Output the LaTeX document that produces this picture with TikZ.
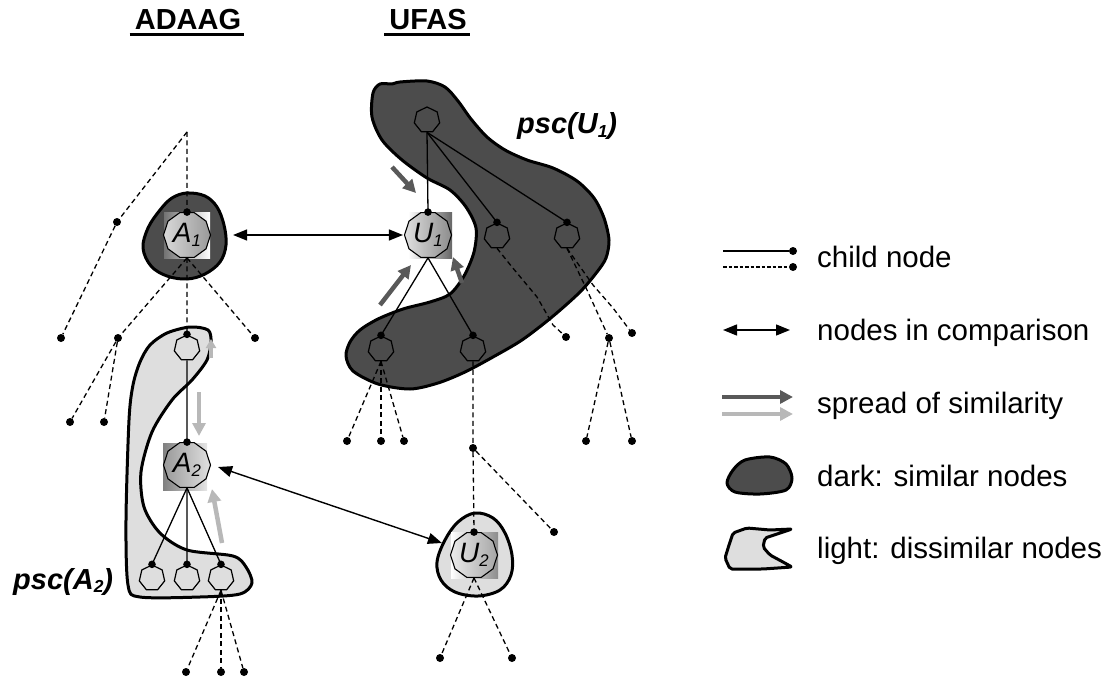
\documentclass[tikz,border=0pt]{standalone}
\usepackage{fontspec}
\setmainfont{Liberation Sans}
\usetikzlibrary{shapes.geometric,arrows.meta}

% small subscript as used in the node and region labels
\newcommand{\smallsub}[1]{\raisebox{-0.12em}{\scalebox{0.6}{#1}}}

\begin{document}
\begin{tikzpicture}[x=1pt,y=-1pt,
  blobline/.style={line width=3pt, line join=round},
  darkblob/.style={blobline, fill=black!70},
  lightblob/.style={blobline, fill=black!13},
  bigpoly/.style={regular polygon, regular polygon sides=10, minimum size=47pt,
    inner sep=0pt, draw, line width=1.1pt,
    font=\fontsize{28}{28}\selectfont\itshape},
  smallpoly/.style={regular polygon, regular polygon sides=7, minimum size=26pt,
    inner sep=0pt, draw, line width=1.2pt},
  solidedge/.style={line width=1.3pt},
  dashedge/.style={line width=1.3pt, dash pattern=on 5pt off 3.5pt},
  leaf/.style={circle, fill, inner sep=0pt, minimum size=8pt},
  cmp/.style={line width=1.4pt,
    {Triangle[length=14pt,width=11pt]}-{Triangle[length=14pt,width=11pt]}},
  simdark/.style={line width=4.5pt, draw=black!65, fill=black!65,
    -{Triangle[length=13pt,width=13pt]}},
  simlight/.style={line width=4.5pt, draw=black!28, fill=black!28,
    -{Triangle[length=13pt,width=13pt]}},
  title/.style={font=\fontsize{29}{29}\selectfont\bfseries, inner sep=0pt, anchor=base},
  psc/.style={font=\fontsize{29}{29}\selectfont\bfseries\itshape, inner sep=0pt, anchor=base west},
  legtext/.style={font=\fontsize{29.5}{29.5}\selectfont, inner sep=0pt, anchor=base west},
]
\useasboundingbox (0,0) rectangle (1113,679);

% ---------- regions of similar / dissimilar nodes ----------
\draw[darkblob] plot[smooth cycle, tension=0.5] coordinates {
  (373,93) (380,84) (392,84) (400,82) (427,81) (445,87) (458,101) (471,119)
  (487,137) (505,150) (527,160) (553,168) (577,181) (594,198) (604,218)
  (609,240) (606,258) (597,272) (580,292) (552,317) (522,340) (493,357)
  (465,372) (438,383) (410,389) (378,384) (353,371) (346,356) (350,342)
  (360,330) (378,319) (403,309) (430,302) (450,294) (464,276) (474,252)
  (476,228) (466,207) (450,190) (427,178) (402,160) (382,140) (372,117)};
\draw[darkblob] plot[smooth cycle, tension=0.6] coordinates {
  (187,193) (205,196) (217,207) (224,225) (226,245) (220,262) (205,274)
  (187,279) (167,276) (151,266) (143,248) (148,228) (160,210) (172,198)};
\draw[lightblob] plot[smooth cycle, tension=0.5] coordinates {
  (167,333) (190,327) (208,330) (211,342) (207,360) (192,380) (172,400)
  (152,432) (141,472) (144,507) (160,533) (187,550) (233,556) (246,567)
  (252,583) (240,594) (200,597) (140,597) (128,585) (126,520) (129,420)
  (133,385) (140,362) (150,345)};
\draw[lightblob] plot[smooth cycle, tension=0.6] coordinates {
  (475,513) (493,518) (505,533) (512,555) (511,575) (500,590) (478,596)
  (455,592) (441,580) (437,562) (445,540) (458,522)};

% ---------- shaded backgrounds of the compared nodes ----------
\shade[left color=black!55, right color=white] (164,212) rectangle (210,258);
\shade[left color=white, right color=black!60] (408,212) rectangle (452,258);
\shade[left color=black!50, right color=black!10] (163,443) rectangle (207,490);
\shade[left color=white, right color=black!45] (451,532) rectangle (498,578);

% ---------- ADAAG tree ----------
\coordinate (ar) at (187,132);
\node[leaf] (al1) at (117,222) {};
\node[leaf] (al2) at (61,338) {};
\node[bigpoly, left color=black!15, right color=black!40] (A1) at (187,235) {A\smallsub{1}};
\node[leaf] (am) at (118,338) {};
\node[leaf] (arr) at (255,338) {};
\node[smallpoly] (ta) at (187,348) {};
\node[leaf] (am1) at (70,422) {};
\node[leaf] (am2) at (104,422) {};
\node[bigpoly, left color=black!40, right color=black!12] (A2) at (187,465) {A\smallsub{2}};
\node[smallpoly] (b1) at (152,578) {};
\node[smallpoly] (b2) at (187,578) {};
\node[smallpoly] (b3) at (221,578) {};
\node[leaf] (bl1) at (186,672) {};
\node[leaf] (bl2) at (221,672) {};
\node[leaf] (bl3) at (244,672) {};

\draw[dashedge] (ar) -- (al1) -- (al2);
\draw[dashedge] (ar) -- (A1.north);
\draw[dashedge] (A1.south) -- (am);
\draw[dashedge] (A1.south) -- (ta.north);
\draw[dashedge] (A1.south) -- (arr);
\draw[dashedge] (am) -- (am1);
\draw[dashedge] (am) -- (am2);
\draw[solidedge] (ta.south) -- (A2.north);
\draw[solidedge] (A2.south) -- (b1.north);
\draw[solidedge] (A2.south) -- (b2.north);
\draw[solidedge] (A2.south) -- (b3.north);
\draw[dashedge] (b3.south) -- (bl1);
\draw[dashedge] (b3.south) -- (bl2);
\draw[dashedge] (b3.south) -- (bl3);

% ---------- UFAS tree ----------
\node[smallpoly] (ur) at (427,120) {};
\node[bigpoly, left color=black!12, right color=black!45] (U1) at (428,235) {U\smallsub{1}};
\node[smallpoly] (u2) at (497,236) {};
\node[smallpoly] (u3) at (567,236) {};
\node[smallpoly] (u4) at (381,349) {};
\node[smallpoly] (u5) at (473,349) {};
\node[leaf] (ul1) at (347,441) {};
\node[leaf] (ul2) at (381,441) {};
\node[leaf] (ul3) at (404,441) {};
\node[leaf] (um) at (473,448) {};
\node[leaf] (um2) at (554,532) {};
\node[bigpoly, left color=black!8, right color=black!35] (U2) at (474,555) {U\smallsub{2}};
\node[leaf] (uv1) at (440,658) {};
\node[leaf] (uv2) at (512,658) {};
\node[leaf] (uw) at (566,337) {};
\node[leaf] (uq) at (609,338) {};
\node[leaf] (uq2) at (632,333) {};
\node[leaf] (uq3) at (586,441) {};
\node[leaf] (uq4) at (632,441) {};

\draw[solidedge] (ur.south) -- (U1.north);
\draw[solidedge] (ur.south) -- (u2.north);
\draw[solidedge] (ur.south) -- (u3.north);
\draw[solidedge] (U1.south) -- (u4.north);
\draw[solidedge] (U1.south) -- (u5.north);
\draw[dashedge] (u4.south) -- (ul1);
\draw[dashedge] (u4.south) -- (ul2);
\draw[dashedge] (u4.south) -- (ul3);
\draw[dashedge] (u5.south) -- (um) -- (U2.north);
\draw[dashedge] (um) -- (um2);
\draw[dashedge] (U2.south) -- (uv1);
\draw[dashedge] (U2.south) -- (uv2);
\draw[dashedge] (u2.south) -- (512,267) -- (537,297) -- (553,325) -- (uw);
\draw[dashedge] (u3.south) -- (587,290) -- (uq);
\draw[dashedge] (u3.south) -- (593,285) -- (613,308) -- (uq2);
\draw[dashedge] (uq) -- (uq3);
\draw[dashedge] (uq) -- (uq4);

% child-node dots on top of every child
\foreach \n in {A1,ta,A2,b1,b2,b3,U1,u2,u3,u4,u5,U2}
  \fill (\n.north) circle (3.8pt);

% ---------- nodes in comparison ----------
\draw[cmp] ([xshift=22pt]A1.east) -- ([xshift=-1pt]U1.west);
\draw[cmp] ([xshift=7pt,yshift=-2pt]A2.east) -- ([xshift=-8pt,yshift=12pt]U2.west);

% ---------- spread of similarity ----------
\coordinate (s1a) at (392,167); \coordinate (s1b) at (416,193);
\coordinate (s2a) at (380,305); \coordinate (s2b) at (411,265);
\coordinate (s3a) at (462,283); \coordinate (s3b) at (453,257);
\coordinate (s4a) at (199,392); \coordinate (s4b) at (199,436);
\coordinate (s5a) at (222,543); \coordinate (s5b) at (212,489);
\coordinate (s6a) at (211,358); \coordinate (s6b) at (211,339);
\draw[simdark] (s1a) -- (s1b);
\draw[simdark] (s2a) -- (s2b);
\draw[simdark] (s3a) -- (s3b);
\draw[simlight] (s4a) -- (s4b);
\draw[simlight] (s5a) -- (s5b);
\draw[simlight, -{Triangle[length=9pt,width=10pt]}] (s6a) -- (s6b);

% ---------- titles and region labels ----------
\node[title] (tA) at (188,30) {ADAAG};
\node[title] (tU) at (428,30) {UFAS};
\draw[line width=2.8pt] ([xshift=-5pt,yshift=-4.5pt]tA.base west) -- ([xshift=3pt,yshift=-4.5pt]tA.base east);
\draw[line width=2.8pt] ([xshift=-5pt,yshift=-4.5pt]tU.base west) -- ([xshift=3pt,yshift=-4.5pt]tU.base east);
\node[psc] (pU) at (517,134) {psc(U\smallsub{1})};
\node[psc] (pA) at (13,589) {psc(A\smallsub{2})};

% ---------- legend ----------
\coordinate (k1a) at (723,251); \node[leaf] (k1b) at (793,251) {};
\coordinate (k2a) at (723,267); \node[leaf] (k2b) at (793,267) {};
\draw[solidedge] (k1a) -- (k1b);
\draw[dashedge, dash pattern=on 3.5pt off 2pt] (k2a) -- (k2b);
\coordinate (k3a) at (723,330); \coordinate (k3b) at (790,330);
\draw[cmp] (k3a) -- (k3b);
\coordinate (k4a) at (722,397); \coordinate (k4b) at (793,397);
\coordinate (k5a) at (722,414); \coordinate (k5b) at (793,414);
\draw[simdark] (k4a) -- (k4b);
\draw[simlight] (k5a) -- (k5b);
\draw[darkblob] plot[smooth cycle, tension=0.5] coordinates {
  (745,460) (770,457) (786,464) (792,478) (786,490) (760,494) (735,492)
  (727,483) (733,470)};
\draw[lightblob, rounded corners=2pt] (733,533) -- (747,528) -- (770,530)
  -- (792,529) -- (765,538) -- (763,547) -- (770,555) -- (783,562)
  -- (792,567) -- (763,569) -- (730,569) -- (725,558) -- (729,545) -- cycle;

\node[legtext] (l1) at (817,267) {child node};
\node[legtext] (l2) at (817,340) {nodes in comparison};
\node[legtext] (l3) at (817,413) {spread of similarity};
\node[legtext] (l4) at (817,486) {dark: similar nodes};
\node[legtext] (l5) at (817,558) {light: dissimilar nodes};
\end{tikzpicture}
\end{document}
